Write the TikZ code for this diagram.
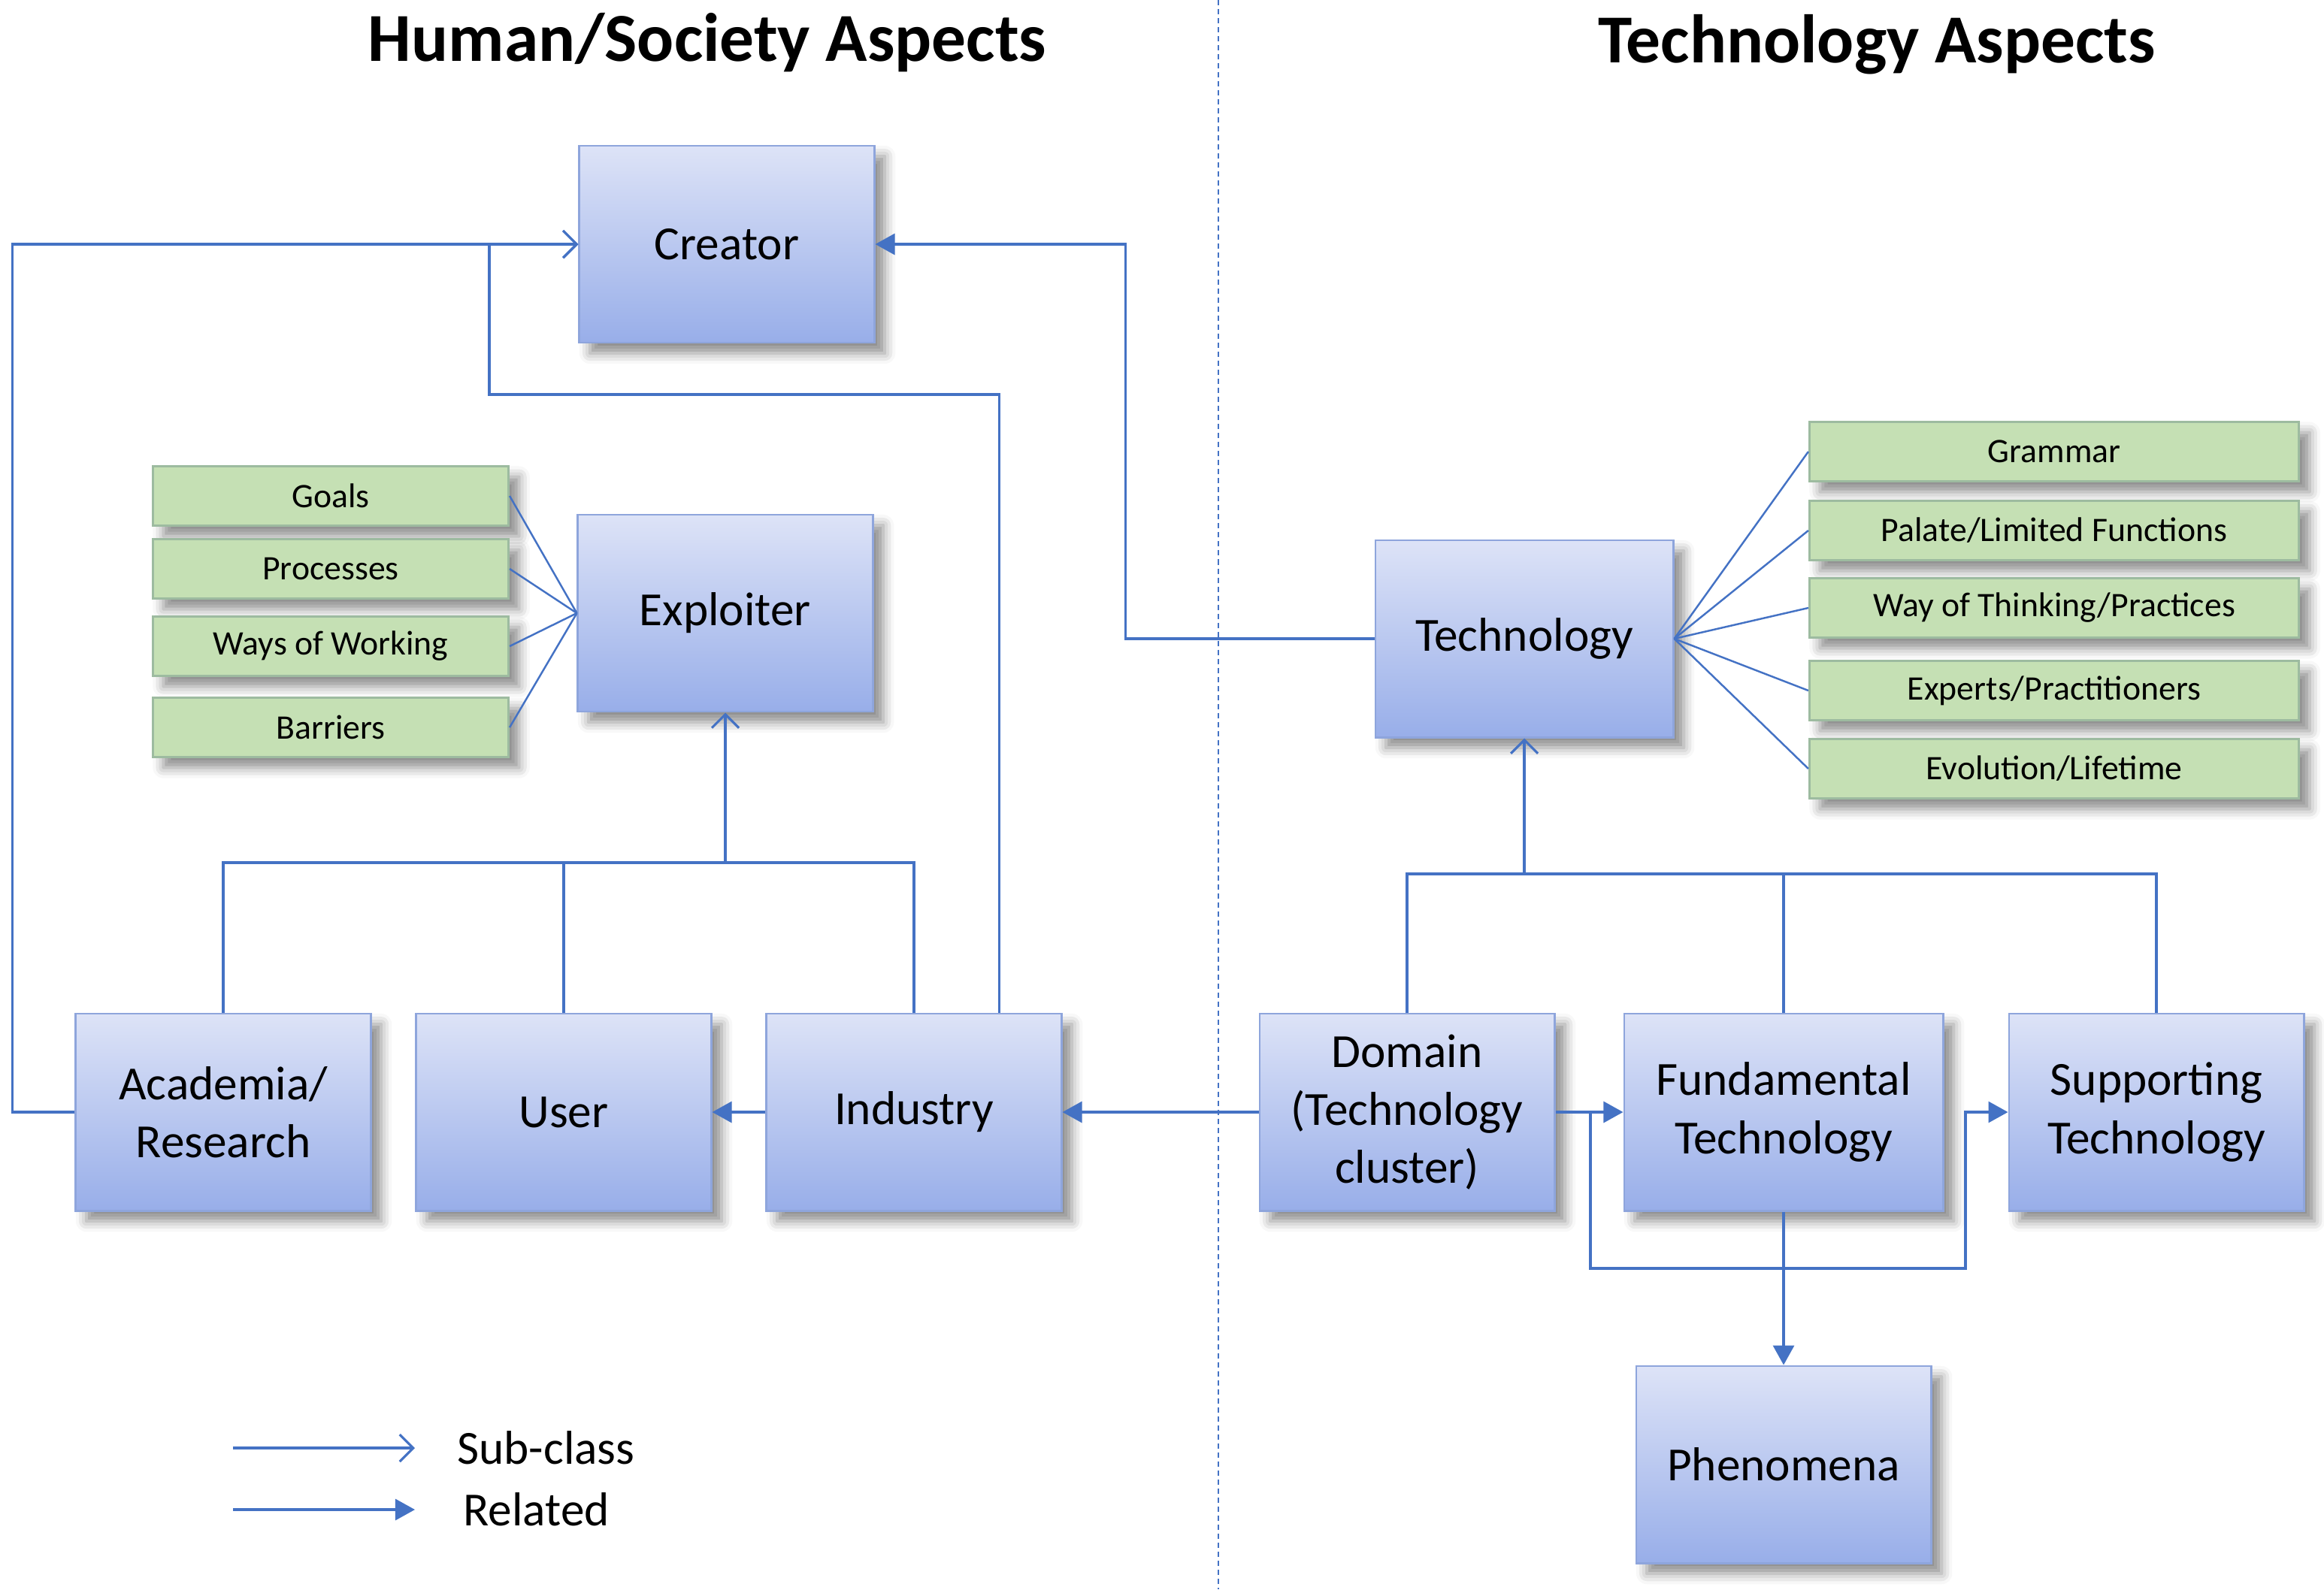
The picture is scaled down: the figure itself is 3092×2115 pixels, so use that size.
\documentclass[tikz,border=0pt]{standalone}
\usepackage{fontspec}
\setmainfont{Carlito}
\usetikzlibrary{arrows.meta, positioning, shadows.blur}

\definecolor{linkblue}{HTML}{4472C4}
\definecolor{boxtop}{HTML}{DDE3F7}
\definecolor{boxbot}{HTML}{98AEE9}
\definecolor{boxedge}{HTML}{8EA5DC}
\definecolor{tagfill}{HTML}{C5E0B4}
\definecolor{tagedge}{HTML}{9DBBA0}

\begin{document}
\begin{tikzpicture}[
  x=0.01cm, y=-0.01cm,
  every node/.style={font=\fontsize{18}{22}\selectfont},
  soft/.style={blur shadow={shadow xshift=4pt, shadow yshift=-4pt, shadow blur radius=4pt, shadow opacity=45}},
  concept/.style={rectangle, draw=boxedge, line width=0.8pt, top color=boxtop, bottom color=boxbot,
    minimum width=3.92cm, minimum height=2.62cm, align=center, inner sep=2pt, soft},
  tag/.style={rectangle, draw=tagedge, line width=0.8pt, fill=tagfill, minimum height=0.79cm,
    font=\fontsize{13}{15}\selectfont, soft},
  heading/.style={font=\fontsize{26}{30}\selectfont\bfseries},
  link/.style={linkblue, line width=0.9pt},
  sub/.style={link, -{Straight Barb[length=0.18cm, width=0.36cm]}},
  rel/.style={link, -{Triangle[length=0.26cm, width=0.28cm]}},
  spoke/.style={linkblue, line width=0.7pt},
  divider/.style={linkblue, line width=0.8pt, dash pattern=on 0.07cm off 0.05cm},
]
  \useasboundingbox (0,0) rectangle (3092,2115);

  % Titres et séparation
  \node[heading] (hhuman) at (941,57) {Human/Society Aspects};
  \node[heading] (htech) at (2497,59) {Technology Aspects};
  \draw[divider] (1621,0) -- (1621,2115);

  % Côté humain
  \node[concept] (creator) at (967,325) {Creator};
  \node[concept] (exploiter) at (965,816) {Exploiter};
  \node[concept] (academia) at (297,1480) {Academia/\\Research};
  \node[concept] (user) at (750,1480) {User};
  \node[concept] (industry) at (1216,1480) {Industry};

  \node[tag, minimum width=4.73cm] (goals) at (440,660) {Goals};
  \node[tag, minimum width=4.73cm] (processes) at (440,757) {Processes};
  \node[tag, minimum width=4.73cm] (ways) at (440,860) {Ways of Working};
  \node[tag, minimum width=4.73cm] (barriers) at (440,968) {Barriers};

  % Côté technologie
  \node[concept, minimum width=3.96cm] (technology) at (2028,850) {Technology};
  \node[concept] (domain) at (1872,1480) {Domain\\(Technology\\cluster)};
  \node[concept, minimum width=4.24cm] (fundamental) at (2373,1480) {Fundamental\\Technology};
  \node[concept] (supporting) at (2869,1480) {Supporting\\Technology};
  \node[concept] (phenomena) at (2373,1949) {Phenomena};

  \node[tag, minimum width=6.51cm] (grammar) at (2733,601) {Grammar};
  \node[tag, minimum width=6.51cm] (palate) at (2733,706) {Palate/Limited Functions};
  \node[tag, minimum width=6.51cm] (thinking) at (2733,809) {Way of Thinking/Practices};
  \node[tag, minimum width=6.51cm] (experts) at (2733,919) {Experts/Practitioners};
  \node[tag, minimum width=6.51cm] (evolution) at (2733,1023) {Evolution/Lifetime};

  % Attributs
  \foreach \n in {goals, processes, ways, barriers}
    \draw[spoke] (\n.east) -- (exploiter.west);
  \foreach \n in {grammar, palate, thinking, experts, evolution}
    \draw[spoke] (technology.east) -- (\n.west);

  % Sous-classes
  \coordinate (ljoin) at (965,1148);
  \draw[link] (academia.north) |- (ljoin) -| (industry.north);
  \draw[link] (user.north) -- (user.north |- ljoin);
  \draw[sub] (ljoin) -- (exploiter.south);
  \draw[sub] ([xshift=1.13cm]industry.north) |- (651,525) |- (creator.west);
  \draw[sub] (academia.west) -- ++(-83,0) |- (creator.west);

  \coordinate (rjoin) at (2028,1163);
  \draw[link] (domain.north) |- (rjoin) -| (supporting.north);
  \draw[link] (fundamental.north) -- (fundamental.north |- rjoin);
  \draw[sub] (rjoin) -- (technology.south);

  % Relations
  \draw[rel] (technology.west) -- ++(-331,0) |- (creator.east);
  \draw[rel] (industry.west) -- (user.east);
  \draw[rel] (domain.west) -- (industry.east);
  \draw[rel] (domain.east) -- (fundamental.west);
  \coordinate (split) at (2116,1480);
  \draw[rel] (split) |- (2615,1688) |- (supporting.west);
  \draw[rel] (fundamental.south) -- (phenomena.north);

  % Légende
  \coordinate (lsub) at (310,1927);
  \coordinate (lrel) at (310,2009);
  \draw[sub] (lsub) -- ++(242,0);
  \draw[rel] (lrel) -- ++(242,0);
  \node[anchor=west] (tsub) at (596,1927) {Sub-class};
  \node[anchor=west] (trel) at (604,2009) {Related};
\end{tikzpicture}
\end{document}
